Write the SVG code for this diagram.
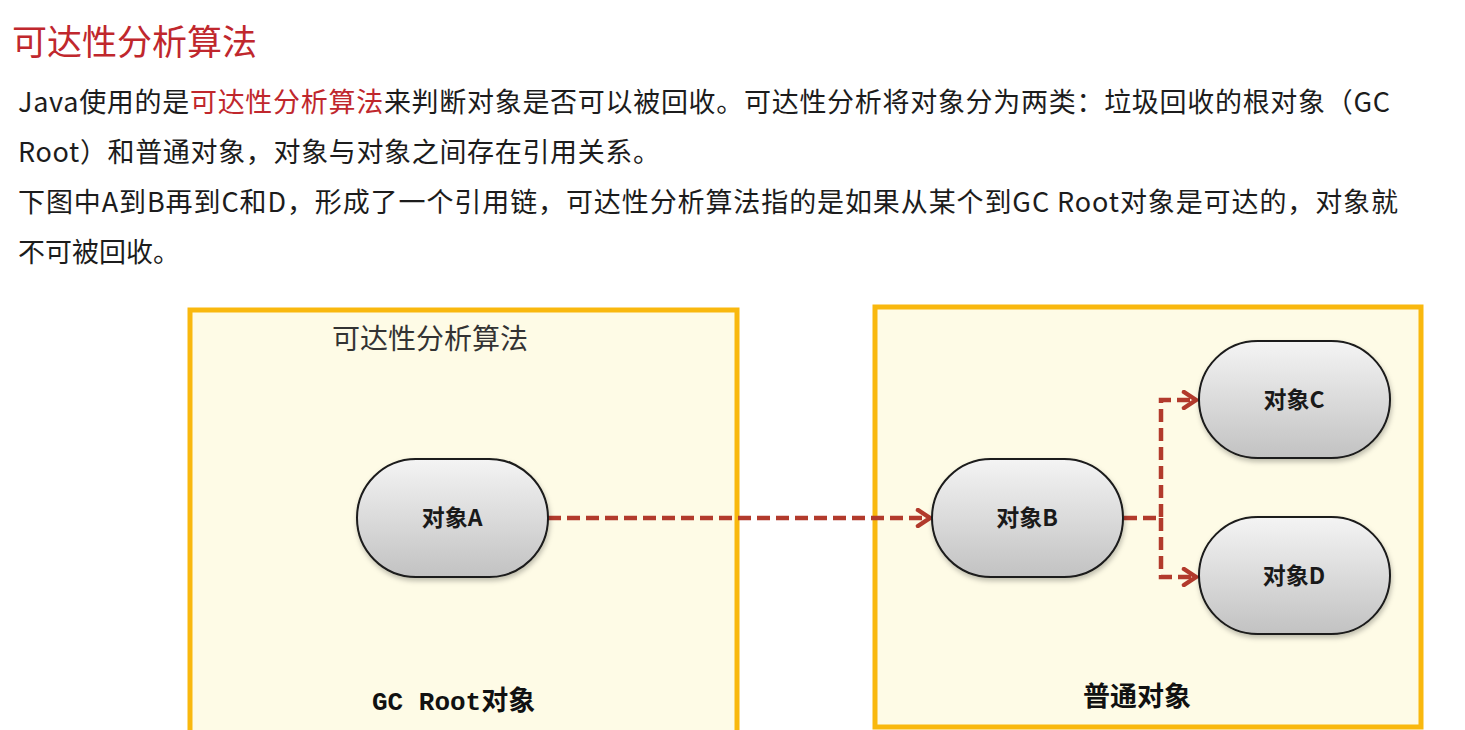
<svg xmlns="http://www.w3.org/2000/svg" width="1465" height="730" viewBox="0 0 1465 730">
<style>
.title{font-family:"Noto Sans CJK SC","Noto Sans",sans-serif;font-size:35px;fill:#C0272D}
.body{font-family:"Noto Sans CJK SC","Noto Sans",sans-serif;font-size:27px;fill:#1c1c1c}
.red{fill:#C0272D}
.box{fill:#FEFBE6;stroke:#F9B80E;stroke-width:5}
.node{fill:url(#ng);stroke:#1a1a1a;stroke-width:2;filter:url(#sh)}
.nlabel{font-family:"Noto Sans CJK SC","Noto Sans",sans-serif;font-size:23px;font-weight:bold;fill:#1a1a1a;text-anchor:middle}
.blabel{font-family:"Noto Sans CJK SC","Noto Sans",sans-serif;font-size:28px;fill:#333}
.bold{font-family:"Noto Sans CJK SC","Noto Sans",sans-serif;font-size:27px;font-weight:bold;fill:#111}
.conn{fill:none;stroke:#B23A2C;stroke-width:4.5;stroke-dasharray:13 6}
</style>
<defs>
<linearGradient id="ng" x1="0" y1="0" x2="0" y2="1">
<stop offset="0" stop-color="#F4F4F4"/>
<stop offset="1" stop-color="#C2C2C2"/>
</linearGradient>
<filter id="sh" x="-20%" y="-20%" width="140%" height="150%">
<feDropShadow dx="1" dy="3" stdDeviation="2.5" flood-color="#000" flood-opacity="0.25"/>
</filter>
<marker id="arr" markerWidth="20" markerHeight="20" refX="15" refY="10" orient="auto" markerUnits="userSpaceOnUse">
<path d="M3,2 L15,10 L3,18" fill="none" stroke="#B23A2C" stroke-width="4.5" stroke-linecap="round" stroke-linejoin="miter"/>
</marker>
</defs>
<rect width="1465" height="730" fill="#FFFFFF"/>
<g id="text">
<text class="title" x="12" y="55">可达性分析算法</text>
<text class="body" x="18" y="112" textLength="1372" lengthAdjust="spacing">Java使用的是<tspan class="red">可达性分析算法</tspan>来判断对象是否可以被回收。可达性分析将对象分为两类：垃圾回收的根对象（GC</text>
<text class="body" x="18" y="162" textLength="642" lengthAdjust="spacing">Root）和普通对象，对象与对象之间存在引用关系。</text>
<text class="body" x="18" y="212" textLength="1380" lengthAdjust="spacing">下图中A到B再到C和D，形成了一个引用链，可达性分析算法指的是如果从某个到GC Root对象是可达的，对象就</text>
<text class="body" x="18" y="262">不可被回收。</text>
</g>
<g id="gcroot-box">
<rect class="box" x="190" y="310" width="547" height="440"/>
<text class="blabel" x="332" y="349">可达性分析算法</text>
<text x="372" y="710" class="bold"><tspan font-family="Liberation Mono, monospace" font-size="26">GC Root</tspan>对象</text>
</g>
<g id="normal-box">
<rect class="box" x="875" y="307" width="546" height="420"/>
<text class="bold" x="1137" y="706" text-anchor="middle">普通对象</text>
</g>
<g id="connectors">
<path class="conn" d="M548,518 L930,518" marker-end="url(#arr)"/>
<path class="conn" d="M1124,518 L1161,518 L1161,400 L1196,400" marker-end="url(#arr)"/>
<path class="conn" d="M1161,518 L1161,577 L1196,577" marker-end="url(#arr)"/>
</g>
<g id="nodeA">
<rect class="node" x="357" y="459" width="191" height="118" rx="59" ry="59"/>
<text class="nlabel" x="452" y="526">对象A</text>
</g>
<g id="nodeB">
<rect class="node" x="932" y="459" width="191" height="118" rx="59" ry="59"/>
<text class="nlabel" x="1027" y="526">对象B</text>
</g>
<g id="nodeC">
<rect class="node" x="1199" y="341" width="191" height="117" rx="58.5" ry="58.5"/>
<text class="nlabel" x="1294" y="408">对象C</text>
</g>
<g id="nodeD">
<rect class="node" x="1199" y="517" width="191" height="117" rx="58.5" ry="58.5"/>
<text class="nlabel" x="1294" y="584">对象D</text>
</g>
</svg>
